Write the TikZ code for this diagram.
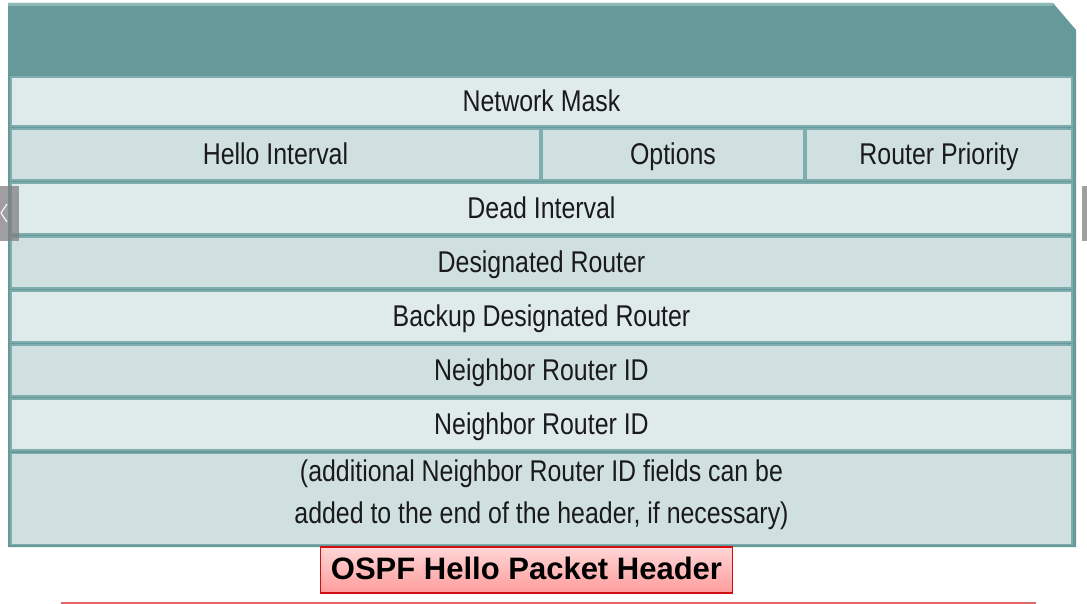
\documentclass[tikz,border=0pt]{standalone}
\usepackage{fontspec}
\setmainfont{Liberation Sans}[FakeStretch=0.83]
\newfontfamily\capfont{Liberation Sans}
\begin{document}
\begin{tikzpicture}[x=1pt,y=-1pt,
  cellbase/.style={draw=bordc, line width=1.5pt, fill=lightA, inner sep=0pt, text=txt, font=\fontsize{30}{42}\selectfont},
  cellA/.style={cellbase, text height=26pt, text depth=6pt},
  cellB/.style={cellA, fill=lightB},
  celltxt/.style={inner sep=0pt, text=txt, font=\fontsize{30}{42}\selectfont, align=center},
  caption/.style={draw=capred, line width=1.2pt, top color=capTop, bottom color=capBot, inner sep=0pt, font=\capfont\bfseries\fontsize{31}{36}\selectfont, text=black, text height=25pt, text depth=6pt}]
\definecolor{teal1}{HTML}{669999}
\definecolor{tealtop}{HTML}{8CB8B8}
\definecolor{bordc}{HTML}{7FADAD}
\definecolor{lightA}{HTML}{DFEBEB}
\definecolor{lightB}{HTML}{D0E0E0}
\definecolor{txt}{HTML}{1A1A1A}
\definecolor{capred}{HTML}{D01010}
\definecolor{capTop}{HTML}{FFD6D6}
\definecolor{capBot}{HTML}{FF9C9C}
\definecolor{redline}{HTML}{E06868}
\useasboundingbox (0,0) rectangle (1087,604);
\fill[white] (0,0) rectangle (1087,604);
% outer frame
\fill[teal1] (8,3) -- (1053,3) -- (1076,30) -- (1076,547) -- (8,547) -- cycle;
\fill[tealtop] (8,3) rectangle (1053,6);
% rows
\node[cellA, minimum width=1061pt, minimum height=49pt] (nm) at (541.5,101.5) {Network Mask};
\node[cellB, minimum width=529pt, minimum height=51pt] (hi) at (275.5,154.5) {Hello Interval};
\node[cellB, minimum width=262pt, minimum height=51pt] (op) at (673,154.5) {Options};
\node[cellB, minimum width=266pt, minimum height=51pt] (rp) at (939,154.5) {Router Priority};
\node[cellA, minimum width=1061pt, minimum height=51pt] (di) at (541.5,208.5) {Dead Interval};
\node[cellB, minimum width=1061pt, minimum height=51pt] (dr) at (541.5,262.5) {Designated Router};
\node[cellA, minimum width=1061pt, minimum height=51pt] (bdr) at (541.5,316.5) {Backup Designated Router};
\node[cellB, minimum width=1061pt, minimum height=51pt] (n1) at (541.5,370.5) {Neighbor Router ID};
\node[cellA, minimum width=1061pt, minimum height=51pt] (n2) at (541.5,424.5) {Neighbor Router ID};
\node[cellbase, fill=lightB, minimum width=1061pt, minimum height=91pt] (add) at (541.5,499) {};
\node[celltxt] (addtxt) at ([yshift=4.5pt]add.center)
  {(additional Neighbor Router ID fields can be\\added to the end of the header, if necessary)};
% caption
\node[caption, minimum width=412pt, minimum height=46pt] (cap) at (526.5,570) {OSPF Hello Packet Header};
\draw[redline, line width=1.5pt] (61,603) -- (1036,603);
% navigation overlays
\fill[gray, opacity=0.75] (0,186) rectangle (19,241);
\draw[white, line width=1pt] (7,204) -- (1,213) -- (7,222);
\fill[gray, opacity=0.75] (1082,186) rectangle (1087,241);
\end{tikzpicture}
\end{document}
